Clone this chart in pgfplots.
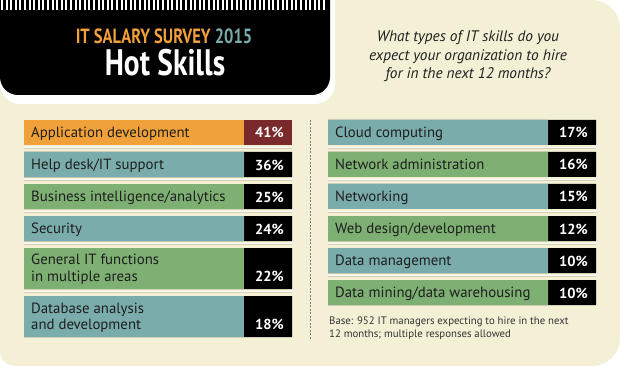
\documentclass[border=0pt]{standalone}
\usepackage{pgfplots}
\pgfplotsset{compat=1.18}
\usepackage{fontspec}
\setmainfont{PT Sans}
\newfontfamily\condfont[FakeStretch=0.8]{PT Sans}
\definecolor{cream}{RGB}{243,240,213}
\definecolor{orng}{RGB}{240,161,58}
\definecolor{dred}{RGB}{122,42,42}
\definecolor{teal2}{RGB}{122,172,171}
\definecolor{grn}{RGB}{125,176,114}
\definecolor{sep}{RGB}{212,206,178}
\definecolor{txt}{RGB}{30,30,30}
\pgfplotsset{
  panel/.style={hide axis, scale only axis, height=366pt, ymin=0, ymax=366, y dir=reverse, clip=false, anchor=south west},
  lab/.style={xbar, bar shift=0pt, draw=none, fill=#1, mark=none},
  val/.style={xbar, bar shift=0pt, draw=none, fill=#1, mark=none, point meta=explicit symbolic,
    nodes near coords={\pgfplotspointmeta\%},
    every node near coord/.append style={anchor=base east, inner sep=0pt, xshift=-8pt, yshift=-5.5pt, text=white, font=\bfseries\fontsize{14.5}{14.5}\selectfont}},
}
\begin{document}
\begin{tikzpicture}
\useasboundingbox (0,0) rectangle (620pt,366pt);
% background
\fill[cream] (0pt,15pt) arc(180:270:15pt) -- (592pt,0pt) arc(270:360:28pt) -- (620pt,338pt) arc(0:90:28pt) -- (0pt,366pt) -- cycle;
\fill[white] (0pt,366pt) -- (0pt,282pt) arc(180:270:20pt) -- (315pt,262pt) arc(270:360:20pt) -- (335pt,366pt) -- cycle;
\fill[black] (0pt,366pt) -- (0pt,289pt) arc(180:270:18pt) -- (312pt,271pt) arc(270:360:18pt) -- (330pt,366pt) -- cycle;
\foreach \i in {0,...,70} \fill[white] ({1pt+\i*4.6pt},356pt) rectangle +(2pt,10pt);
% title
\node[anchor=base, inner sep=0pt, font=\condfont\bfseries\fontsize{20.6}{20.6}\selectfont] at (164pt,322.7pt) {\textcolor{orng}{IT SALARY SURVEY} \textcolor{teal2}{2015}};
\node[anchor=base, inner sep=0pt, text=white, font=\condfont\bfseries\fontsize{36.8}{36.8}\selectfont] at (165pt,290pt) {Hot Skills};
% question
\begin{scope}[every node/.style={anchor=base, inner sep=0pt, text=txt, font=\itshape\fontsize{15.3}{15.3}\selectfont}]
\node at (468pt,324.5pt) {What types of IT skills do you};
\node at (468pt,305.5pt) {expect your organization to hire};
\node at (468pt,287pt) {for in the next 12 months?};
\end{scope}
% dashed divider
\draw[gray, line width=0.8pt, dash pattern=on 2pt off 1.5pt] (310pt,246pt) -- (310pt,26pt);
% separators
\foreach \y in {148.5,180.5,212.5,244.5,292.5} {
  \draw[sep, line width=1.2pt] (24pt,366pt-\y pt) -- (292pt,366pt-\y pt);
  \draw[white, line width=0.6pt] (24pt,366pt-\y pt+1.3pt) -- (292pt,366pt-\y pt+1.3pt);
}
\foreach \y in {148.5,180.5,212.5,244.5,276.5} {
  \draw[sep, line width=1.2pt] (328pt,366pt-\y pt) -- (596pt,366pt-\y pt);
  \draw[white, line width=0.6pt] (328pt,366pt-\y pt+1.3pt) -- (596pt,366pt-\y pt+1.3pt);
}
% left panel
\begin{axis}[panel, at={(24pt,0pt)}, width=596pt, xmin=0, xmax=596]
\addplot[val=dred, bar width=25pt] coordinates {(268,132.5) [41]};
\addplot[val=black, bar width=25pt] coordinates {(268,164.5) [36] (268,196.5) [25] (268,228.5) [24]};
\addplot[val=black, bar width=41pt, every node near coord/.append style={yshift=-7.7pt}] coordinates {(268,268.5) [22] (268,316.5) [18]};
\addplot[lab=orng, bar width=25pt] coordinates {(220,132.5)};
\addplot[lab=teal2, bar width=25pt] coordinates {(220,164.5) (220,228.5)};
\addplot[lab=grn, bar width=25pt] coordinates {(220,196.5)};
\addplot[lab=grn, bar width=41pt] coordinates {(220,268.5)};
\addplot[lab=teal2, bar width=41pt] coordinates {(220,316.5)};
\end{axis}
% right panel
\begin{axis}[panel, at={(328pt,0pt)}, width=292pt, xmin=0, xmax=292]
\addplot[val=black, bar width=25pt] coordinates {(268,132.5) [17] (268,164.5) [16] (268,196.5) [15] (268,228.5) [12] (268,260.5) [10] (268,292.5) [10]};
\addplot[lab=teal2, bar width=25pt] coordinates {(220,132.5) (220,196.5) (220,260.5)};
\addplot[lab=grn, bar width=25pt] coordinates {(220,164.5) (220,228.5) (220,292.5)};
\end{axis}
% category labels
\begin{scope}[every node/.style={anchor=base west, inner sep=0pt, text=txt, font=\fontsize{14.8}{16.5}\selectfont, align=left}]
\node at (31pt,366pt-138pt) {Application development};
\node at (31pt,366pt-170pt) {Help desk/IT support};
\node at (31pt,366pt-202pt) {Business intelligence/analytics};
\node at (31pt,366pt-234pt) {Security};
\node at (31pt,366pt-265pt) {General IT functions};
\node at (31pt,366pt-281.5pt) {in multiple areas};
\node at (31pt,366pt-313.3pt) {Database analysis};
\node at (31pt,366pt-329.3pt) {and development};
\node at (335pt,366pt-138pt) {Cloud computing};
\node at (335pt,366pt-170pt) {Network administration};
\node at (335pt,366pt-202pt) {Networking};
\node at (335pt,366pt-234pt) {Web design/development};
\node at (335pt,366pt-266pt) {Data management};
\node at (335pt,366pt-298pt) {Data mining/data warehousing};
\end{scope}
% base note
\begin{scope}[every node/.style={anchor=base west, inner sep=0pt, text={black!80}, font=\fontsize{10.8}{10.8}\selectfont}]
\node at (329pt,366pt-325pt) {Base: 952 IT managers expecting to hire in the next};
\node at (329pt,366pt-337.3pt) {12 months; multiple responses allowed};
\end{scope}
\end{tikzpicture}
\end{document}
